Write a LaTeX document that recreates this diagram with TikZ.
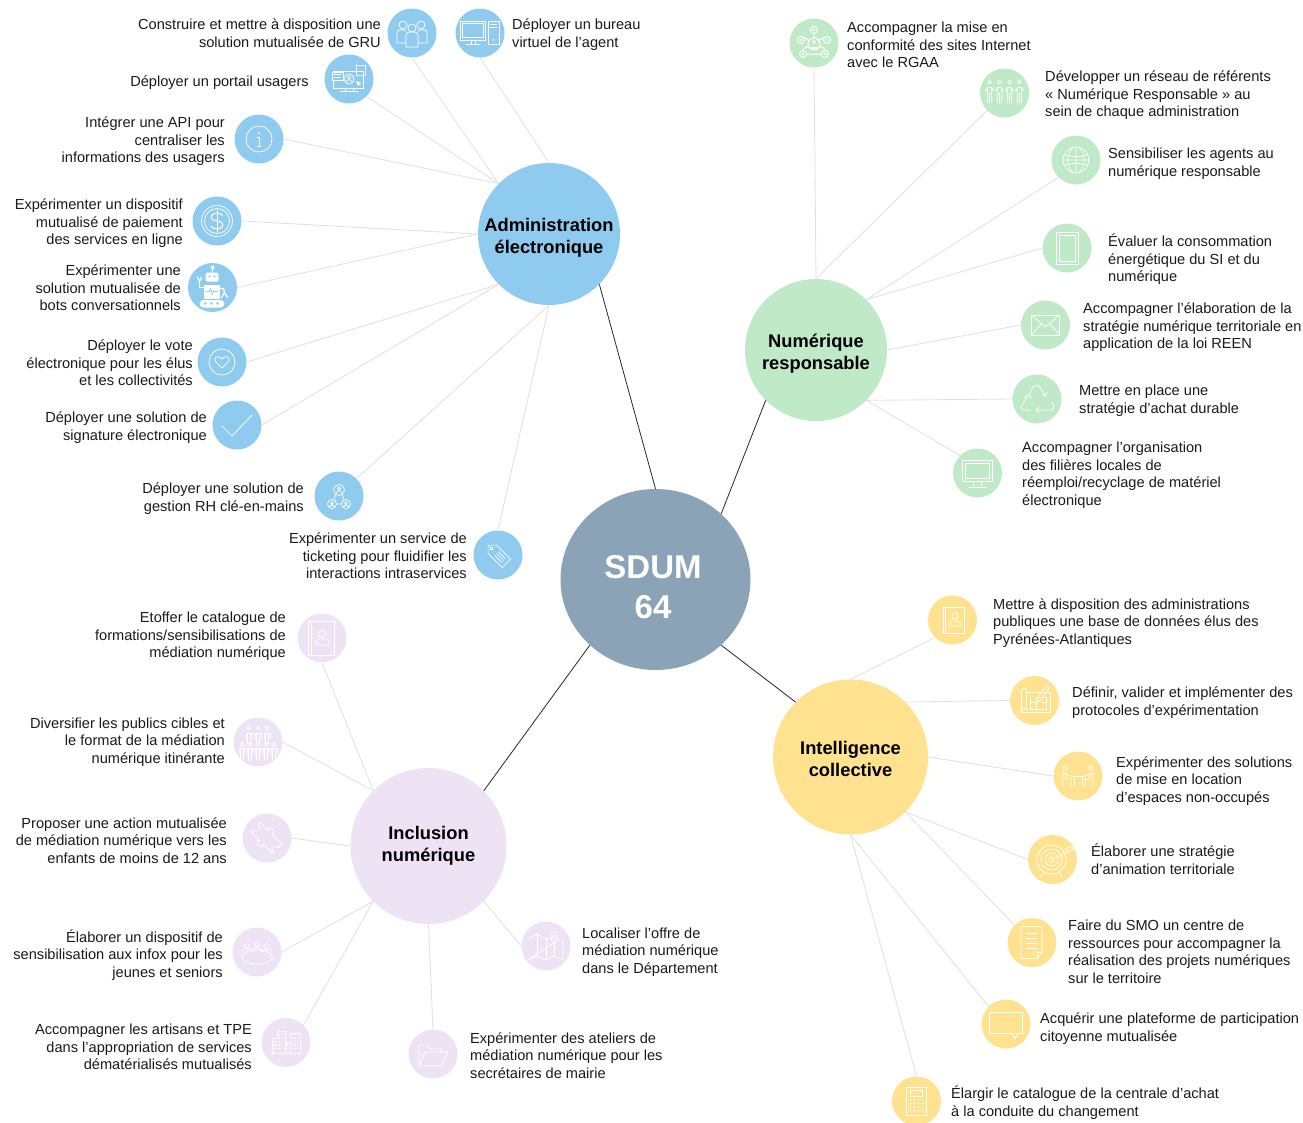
\documentclass[tikz,border=0pt]{standalone}
\usepackage{fontspec}
\setmainfont{Liberation Sans}
\usetikzlibrary{shapes.geometric}
\definecolor{cblue}{HTML}{8FCBEF}
\definecolor{cgreen}{HTML}{BFE9C7}
\definecolor{cyellow}{HTML}{FFE28F}
\definecolor{cpurple}{HTML}{EEE3F5}
\definecolor{ccentre}{HTML}{8AA3B7}
\definecolor{clink}{HTML}{E0E0E0}
\definecolor{ctext}{HTML}{1A1A1A}
\newcommand\dropby[1]{\rule{0pt}{#1pt}}
\tikzset{
  x=1pt,y=-1pt,
  leaf/.style={circle,draw=none,inner sep=0,minimum size=49pt},
  hub/.style={circle,draw=none,inner sep=0,align=center,font=\fontsize{18.3}{22}\selectfont\bfseries,text=black},
  lbl/.style={inner sep=0,text=ctext,yshift=-3pt,font=\fontsize{14.6}{17.6}\selectfont,execute at begin node=\strut,execute at end node=\strut},
  lr/.style={lbl,anchor=east,align=right},
  ll/.style={lbl,anchor=west,align=left},
  thin link/.style={draw=clink,line width=.85pt},
  main link/.style={draw=black!85,line width=.8pt},
  ic/.style={draw=white,line width=.7pt,line join=round,line cap=round},
  icf/.style={fill=white,draw=none},
}
\begin{document}
\begin{tikzpicture}
\useasboundingbox (0,0) rectangle (1303,1122);
% centre and hubs
\node[ellipse,draw=none,fill=ccentre,inner sep=0,minimum width=190pt,minimum height=181pt,align=center,text=white,font=\fontsize{33}{40}\selectfont\bfseries] (sdum) at (655.5,579.5) {\dropby{38}SDUM\kern5pt\\64\kern5pt};
\node[hub,fill=cblue,minimum size=142pt] (ha) at (549,234) {\dropby{21}Administration\\électronique};
\node[hub,fill=cgreen,minimum size=142pt] (hn) at (816,350) {\dropby{21}Numérique\\responsable};
\node[hub,fill=cyellow,minimum size=155pt] (hi) at (850.5,757) {\dropby{17}Intelligence\\collective};
\node[hub,fill=cpurple,minimum size=156pt] (hp) at (428.5,846) {Inclusion\\numérique};
\draw[main link] (sdum.north) -- (ha.315);
\draw[main link] (sdum.45) -- (hn.225);
\draw[main link] (sdum.315) -- (hi.135);
\draw[main link] (sdum.225) -- (hp.45);
% blue leaves
\foreach \n/\x/\y in {a1/412/33,a2/480/33,a3/349/79,a4/259/139,a5/217/221,a6/212.5/287.5,a7/222/362,a8/237/425,a9/339/496,a10/498/555}
  \node[leaf,fill=cblue] (\n) at (\x,\y) {};
\foreach \n/\x/\y in {n1/814/43,n2/1004.5/93,n3/1076/160,n4/1067/248,n5/1045.5/325,n6/1037/399,n7/977.5/473}
  \node[leaf,fill=cgreen] (\n) at (\x,\y) {};
\foreach \n/\x/\y in {i1/952.5/620,i2/1034.5/700.5,i3/1078/776,i4/1052.5/859.5,i5/1032/942.5,i6/1006/1024,i7/916.5/1101}
  \node[leaf,fill=cyellow] (\n) at (\x,\y) {};
\foreach \n/\x/\y in {p1/322/638,p2/258/742,p3/267/838,p4/257/952,p5/286/1042.5,p6/433/1054,p7/546/946}
  \node[leaf,fill=cpurple] (\n) at (\x,\y) {};
% thin links
\draw[thin link] (a1.south) -- (ha.135);
\draw[thin link] (a2.south) -- (ha.north);
\draw[thin link] (a3.315) -- (ha.135);
\draw[thin link] (a4.east) -- (ha.135);
\draw[thin link] (a5.east) -- (ha.west);
\draw[thin link] (a6.east) -- (ha.west);
\draw[thin link] (a7.east) -- (ha.225);
\draw[thin link] (a8.east) -- (ha.225);
\draw[thin link] (a9.45) -- (ha.south);
\draw[thin link] (a10.north) -- (ha.south);
\draw[thin link] (n1.south) -- (hn.north);
\draw[thin link] (n2.225) -- (hn.north);
\draw[thin link] (n3.225) -- (hn.45);
\draw[thin link] (n4.west) -- (hn.45);
\draw[thin link] (n5.west) -- (hn.east);
\draw[thin link] (n6.west) -- (hn.315);
\draw[thin link] (n7.135) -- (hn.315);
\draw[thin link] (i1.225) -- (hi.north);
\draw[thin link] (i2.west) -- (hi.45);
\draw[thin link] (i3.west) -- (hi.east);
\draw[thin link] (i4.west) -- (hi.315);
\draw[thin link] (i5.135) -- (hi.315);
\draw[thin link] (i6.135) -- (hi.south);
\draw[thin link] (i7.north) -- (hi.south);
\draw[thin link] (p1.south) -- (hp.135);
\draw[thin link] (p2.east) -- (hp.135);
\draw[thin link] (p3.east) -- (hp.west);
\draw[thin link] (p4.east) -- (hp.225);
\draw[thin link] (p5.45) -- (hp.225);
\draw[thin link] (p6.north) -- (hp.south);
\draw[thin link] (p7.west) -- (hp.315);
% labels
\node[lr] (ta1) at (381,33) {Construire et mettre à disposition une\\solution mutualisée de GRU};
\node[ll] (ta2) at (512,33) {Déployer un bureau\\virtuel de l’agent};
\node[lr] (ta3) at (309,80) {Déployer un portail usagers};
\node[lr] (ta4) at (225,139.5) {Intégrer une API pour\\centraliser les\\informations des usagers};
\node[lr] (ta5) at (183,221.5) {Expérimenter un dispositif\\mutualisé de paiement\\des services en ligne};
\node[lr] (ta6) at (181,287.5) {Expérimenter une\\solution mutualisée de\\bots conversationnels};
\node[lr] (ta7) at (193,362.5) {Déployer le vote\\électronique pour les élus\\et les collectivités};
\node[lr] (ta8) at (207,425.5) {Déployer une solution de\\signature électronique};
\node[lr] (ta9) at (304,496.5) {Déployer une solution de\\gestion RH clé-en-mains};
\node[lr] (ta10) at (467,555.5) {Expérimenter un service de\\ticketing pour fluidifier les\\interactions intraservices};
\node[ll] (tn1) at (847,44.5) {Accompagner la mise en\\conformité des sites Internet\\avec le RGAA};
\node[ll] (tn2) at (1045,93.5) {Développer un réseau de référents\\« Numérique Responsable » au\\sein de chaque administration};
\node[ll] (tn3) at (1108,162) {Sensibiliser les agents au\\numérique responsable};
\node[ll] (tn4) at (1108,257.5) {Évaluer la consommation\\énergétique du SI et du\\numérique};
\node[ll] (tn5) at (1083,325.5) {Accompagner l’élaboration de la\\stratégie numérique territoriale en\\application de la loi REEN};
\node[ll] (tn6) at (1079,399) {Mettre en place une\\stratégie d’achat durable};
\node[ll] (tn7) at (1022,473.5) {Accompagner l’organisation\\des filières locales de\\réemploi/recyclage de matériel\\électronique};
\node[ll] (ti1) at (993,621) {Mettre à disposition des administrations\\publiques une base de données élus des\\Pyrénées-Atlantiques};
\node[ll] (ti2) at (1072,701) {Définir, valider et implémenter des\\protocoles d’expérimentation};
\node[ll] (ti3) at (1116,779) {Expérimenter des solutions\\de mise en location\\d’espaces non-occupés};
\node[ll] (ti4) at (1091,859) {Élaborer une stratégie\\d’animation territoriale};
\node[ll] (ti5) at (1068,951.5) {Faire du SMO un centre de\\ressources pour accompagner la\\réalisation des projets numériques\\sur le territoire};
\node[ll] (ti6) at (1040,1027) {Acquérir une plateforme de participation\\citoyenne mutualisée};
\node[ll] (ti7) at (951,1101) {Élargir le catalogue de la centrale d’achat\\à la conduite du changement};
\node[lr] (tp1) at (286,634.5) {Etoffer le catalogue de\\formations/sensibilisations de\\médiation numérique};
\node[lr] (tp2) at (225,740) {Diversifier les publics cibles et\\le format de la médiation\\numérique itinérante};
\node[lr] (tp3) at (227,840) {Proposer une action mutualisée\\de médiation numérique vers les\\enfants de moins de 12 ans};
\node[lr] (tp4) at (223,953) {Élaborer un dispositif de\\sensibilisation aux infox pour les\\jeunes et seniors};
\node[lr] (tp5) at (252,1046.5) {Accompagner les artisans et TPE\\dans l’appropriation de services\\dématérialisés mutualisés};
\node[ll] (tp6) at (470,1055) {Expérimenter des ateliers de\\médiation numérique pour les\\secrétaires de mairie};
\node[ll] (tp7) at (582,950) {Localiser l’offre de\\médiation numérique\\dans le Département};
% ---- icons
% a1 people
\begin{scope}[shift={(a1.center)},ic]
\draw (-9,-8) circle (4) (0,-5) circle (4) (9,-8) circle (4);
\draw (-6,14) -- (-6,1) .. controls (-6,-2) and (6,-2) .. (6,1) -- (6,14) -- cycle;
\draw (-6,10) -- (-15,10) -- (-15,0) .. controls (-15,-4) and (-9,-4) .. (-6,-2);
\draw (6,10) -- (15,10) -- (15,0) .. controls (15,-4) and (9,-4) .. (6,-2);
\end{scope}
% a2 computer
\begin{scope}[shift={(a2.center)},ic]
\draw (-20,-12) rectangle (5,7) (-18,-10) rectangle (3,4);
\draw (-9,7) -- (-9,11) (-5,7) -- (-5,11) (-14,11) -- (0,11);
\draw (8,-12) rectangle (19,11) (10,-9) -- (17,-9) (10,-6) -- (17,-6);
\fill[white] (13.5,7) circle (.8);
\end{scope}
% a3 portal
\begin{scope}[shift={(a3.center)},ic]
\draw (-16,-8) rectangle (14,9);
\draw (-4,9) -- (-4,12) (4,9) -- (4,12) (-9,12) -- (9,12);
\draw[fill=cblue] (-17,-7) rectangle (-6,1);
\draw (-15,-4.5) -- (-8,-4.5) (-15,-2) -- (-9,-2);
\draw (0,0) circle (5) (0,-1.5) circle (1.6);
\draw (-3,3) .. controls (-2,0) and (2,0) .. (3,3);
\draw[densely dotted] (7,-14) rectangle (16,-4);
\fill[white] (7,2) -- (12,4) -- (9,7) -- cycle;
\end{scope}
% a4 info
\begin{scope}[shift={(a4.center)},ic]
\draw (0,0) circle (13);
\draw (0,-2) -- (0,7) (-2,-2) -- (0,-2) (-2,7) -- (2,7);
\fill[white] (0,-6) circle (1);
\end{scope}
% a5 dollar
\begin{scope}[shift={(a5.center)},ic]
\draw (0,0) circle (15.5) (0,0) circle (12.5);
\draw[line width=1pt] (6,-5) .. controls (5,-9) and (-6,-9) .. (-6,-4) .. controls (-6,2) and (6,-2) .. (6,4) .. controls (6,9) and (-5,9) .. (-6,5);
\draw[line width=1pt] (0,-11) -- (0,11);
\end{scope}
% a6 robot
\begin{scope}[shift={(a6.center)},ic]
\fill[white] (0,-20) circle (2);
\draw[line width=1.4pt] (0,-19) -- (0,-15);
\fill[white,rounded corners=1.5pt] (-7,-15) rectangle (6,-6);
\fill[cblue] (-3,-11) circle (1.2) (2,-11) circle (1.2);
\fill[white] (-9,-3) rectangle (7,11);
\draw[cblue,line width=.7pt] (-6,4) -- (-3,4) -- (-2,1) -- (0,7) -- (1,3) -- (2,4) -- (5,4);
\fill[white,rounded corners=4pt] (-13,12.5) rectangle (12,20);
\fill[cblue] (-7,16) circle (1.3) (-1,16) circle (1.3) (5,16) circle (1.3);
\draw[line width=1.4pt] (-9,0) -- (-13,0) -- (-13,-6);
\draw[line width=1.2pt] (-15,-10) -- (-13,-6) -- (-11,-10);
\draw[line width=1.4pt] (7,1) -- (11,1) -- (12,5);
\draw[line width=1.2pt] (9,10) -- (12,5) -- (15,10);
\end{scope}
% a7 heart
\begin{scope}[shift={(a7.center)},ic]
\draw (0,0) circle (13);
\draw (0,6) .. controls (-4,2) and (-7,0) .. (-7,-2.5) .. controls (-7,-6) and (-2,-6) .. (0,-3) .. controls (2,-6) and (7,-6) .. (7,-2.5) .. controls (7,0) and (4,2) .. cycle;
\end{scope}
% a8 tick
\begin{scope}[shift={(a8.center)},ic]
\draw (-15,1) -- (-5,11) -- (15,-10);
\end{scope}
% a9 hr network
\begin{scope}[shift={(a9.center)},ic]
\draw (0,-6) circle (5.5) (-7,8) circle (4.5) (7,8) circle (4.5);
\draw (-3,-2) -- (-5,3.5) (3,-2) -- (5,3.5) (-2,8) -- (2,8);
\draw (0,-7.5) circle (1.7) (-2.8,-3) .. controls (-2,-6) and (2,-6) .. (2.8,-3);
\draw (-7,7) circle (1.3) (-9.5,11) .. controls (-9,8.5) and (-5,8.5) .. (-4.5,11);
\draw (7,7) circle (1.3) (4.5,11) .. controls (5,8.5) and (9,8.5) .. (9.5,11);
\end{scope}
% a10 tag
\begin{scope}[shift={(a10.center)},ic,rotate=-45]
\draw (-13,-1) -- (-8,-6) -- (12,-6) -- (12,6) -- (-8,6) -- (-13,1) -- cycle;
\draw (-9,0) circle (1.3);
\draw (-2,-2.5) -- (8,-2.5) (-2,0) -- (8,0) (-2,2.5) -- (8,2.5);
\end{scope}
% n1 hub of people
\begin{scope}[shift={(n1.center)},ic,line width=1pt]
\draw (-11,-6) -- (11,6) (11,-6) -- (-11,6) (0,-13) -- (0,0) (-11,11) -- (11,11);
\draw[fill=cgreen] (0,1) circle (6);
\foreach \p in {(0,-13),(-13,-3),(13,-3),(-11,11),(11,11)} \draw[fill=cgreen,line width=.9pt] \p circle (3.5);
\fill[white] (0,-1) circle (1.8) (-4,4) rectangle (4,6);
\foreach \p in {(0,-13),(-13,-3),(13,-3),(-11,11),(11,11)} \fill[white] \p circle (1.4);
\end{scope}
% n2 four figures
\begin{scope}[shift={(n2.center)},ic]
\foreach \dx in {-15,-5,5,15}{
\begin{scope}[xshift=\dx]
\draw (0,-11) circle (1.8);
\draw (-4,-2) .. controls (-4,-7) and (4,-7) .. (4,-2) (-2.2,-5) -- (-2.2,10) (2.2,-5) -- (2.2,10) (0,0) -- (0,10);
\end{scope}}
\end{scope}
% n3 globe
\begin{scope}[shift={(n3.center)},ic]
\draw (0,0) circle (13);
\draw (-12,-5) .. controls (-5,-3) and (5,-3) .. (12,-5) (-13,0) -- (13,0) (-12,5) .. controls (-5,3) and (5,3) .. (12,5);
\draw (0,-13) -- (0,13) (-3,-13) .. controls (-10,-5) and (-10,5) .. (-3,13) (3,-13) .. controls (10,-5) and (10,5) .. (3,13);
\end{scope}
% n4 tablet
\begin{scope}[shift={(n4.center)},ic]
\draw (-11,-16) rectangle (11,16) (-8,-13) rectangle (8,13);
\end{scope}
% n5 envelope
\begin{scope}[shift={(n5.center)},ic]
\draw (-14,-10) rectangle (14,10);
\draw (-14,-10) -- (0,2) -- (14,-10) (-14,10) -- (-4,-1.5) (14,10) -- (4,-1.5);
\end{scope}
% n6 recycle
\begin{scope}[shift={(n6.center)},ic]
\draw (-9,-3) -- (-3,-13) -- (1,-14) -- (9,-3);
\draw (5.5,-4) -- (9,-3) -- (10,-7);
\draw (15,3) -- (17,7) -- (15,11) -- (-1,11);
\draw (2,8) -- (-1,11) -- (2,14);
\draw (-6,11) -- (-14,11) -- (-16,8) -- (-10,-2);
\draw (-13,-1) -- (-9,-5) -- (-6,-1);
\end{scope}
% n7 monitor
\begin{scope}[shift={(n7.center)},ic]
\draw (-15,-13) rectangle (15,8) (-12,-10) rectangle (12,5);
\draw (-4,8) -- (-4,14) (4,8) -- (4,14) (-9,14) -- (9,14);
\end{scope}
% i1 address book
\begin{scope}[shift={(i1.center)},ic]
\draw (-9,-13) rectangle (12,13) (-7,-13) -- (-7,13);
\draw (2.5,-4) circle (3.2);
\draw (-3,6) -- (-3,3) .. controls (-3,0) and (8,0) .. (8,3) -- (8,6) -- cycle;
\end{scope}
% i2 blueprint
\begin{scope}[shift={(i2.center)},ic]
\draw (-13,-10) -- (-13,12) -- (16,12) -- (16,-8) -- (-8,-8);
\draw (-13,-10) .. controls (-13,-13) and (-8,-13) .. (-8,-10) -- (-8,9) .. controls (-10,7) and (-12,8) .. (-13,12);
\draw (-4,-3) -- (-4,9) -- (12,9) -- (12,-3) -- (7,-3) (-4,2) -- (2,2) (2,-3) -- (2,9) (7,2) -- (12,2);
\draw (2,-1) -- (12,-15) -- (15,-13) -- (5,1) -- cycle;
\end{scope}
% i3 two people at a table
\begin{scope}[shift={(i3.center)},ic]
\draw (-13,-8) circle (2) (13,-8) circle (2);
\draw (-12,-4) -- (-12,3) -- (-7,3) -- (-7,11) (-15,-4) -- (-15,11) (-15,-3) -- (-4,1);
\draw (12,-4) -- (12,3) -- (7,3) -- (7,11) (15,-4) -- (15,11) (15,-3) -- (4,1);
\draw (-6,0) -- (6,0) (-4,0) -- (-4,11) (4,0) -- (4,11);
\end{scope}
% i4 target
\begin{scope}[shift={(i4.center)},ic]
\draw (-1,0) circle (14.5) (-1,0) circle (10.5) (-1,0) circle (6.5) (-1,0) circle (2.5);
\draw (-1,0) -- (18,-9) (13,-11) -- (15,-7.5) -- (21,-10) -- (19,-13) -- cycle;
\draw (-9,13) -- (-12,18) (7,13) -- (10,18);
\end{scope}
% i5 document
\begin{scope}[shift={(i5.center)},ic]
\draw (-11,-16) -- (10,-16) -- (10,10) -- (5,16) -- (-11,16) -- cycle;
\draw (5,16) -- (5,10) -- (10,10);
\draw (-6,-9) -- (5,-9) (-6,-4) -- (5,-4) (-6,1) -- (5,1) (-6,6) -- (5,6);
\end{scope}
% i6 speech bubble
\begin{scope}[shift={(i6.center)},ic]
\draw[line width=.9pt] (-17,-12) rectangle (16,9);
\fill[cyellow] (6,8) rectangle (12,10);
\draw[line width=.9pt] (6,9) -- (9,15) -- (12,9);
\fill[white] (-9,0) circle (1.2) (0,0) circle (1.2) (8,0) circle (1.2);
\end{scope}
% i7 calculator
\begin{scope}[shift={(i7.center)},ic]
\draw (-10,-14) rectangle (10,14) (-6,-11) rectangle (6,-5);
\foreach \yy in {-1,2.5,6,9.5}\foreach \xx in {-6,-2,2,6} \fill[white] (\xx,\yy) circle (.9);
\end{scope}
% p1 address book
\begin{scope}[shift={(p1.center)},ic]
\draw (-14,-17) rectangle (12,17) (-11,-17) -- (-11,17);
\draw (0,-4) circle (3.5);
\draw (-6,7) -- (-6,3) .. controls (-6,0) and (7,0) .. (7,3) -- (7,7) -- cycle;
\end{scope}
% p2 crowd
\begin{scope}[shift={(p2.center)},ic]
\foreach \dx in {-9,0,9}{
\begin{scope}[xshift=\dx]
\draw (0,-14) circle (1.8);
\draw (-3,-3) -- (-3,-9) -- (3,-9) -- (3,-3) (-1.5,-9) -- (-1.5,2) (1.5,-9) -- (1.5,2);
\end{scope}}
\foreach \dx in {-16,-8,0,8,16}{
\begin{scope}[xshift=\dx]
\draw (0,2) circle (1.8);
\draw (-3,11) -- (-3,6) -- (3,6) -- (3,11) (-1.5,6) -- (-1.5,18) (1.5,6) -- (1.5,18);
\end{scope}}
\end{scope}
% p3 puzzle
\begin{scope}[shift={(p3.center)},ic,rotate=-45]
\draw (-16,-6) -- (-5,-6) .. controls (-8,-12) and (3,-12) .. (1,-6) -- (15,-6) -- (15,-1) .. controls (9,-3) and (9,7) .. (15,5) -- (15,7) -- (2,7) .. controls (5,13) and (-7,13) .. (-4,7) -- (-16,7) -- (-16,4) .. controls (-10,5) and (-10,-4) .. (-16,-3) -- cycle;
\end{scope}
% p4 meeting
\begin{scope}[shift={(p4.center)},ic]
\draw (0,5) ellipse (15.5 and 7);
\draw (-10,-6) circle (2.5) (0,-8) circle (2.5) (10,-6) circle (2.5);
\draw (-15,-1) .. controls (-14,-4) and (-7,-4) .. (-5,0) (-5,-2) .. controls (-4,-5) and (4,-5) .. (5,-2) (5,0) .. controls (7,-4) and (14,-4) .. (15,-1);
\end{scope}
% p5 buildings
\begin{scope}[shift={(p5.center)},ic,draw opacity=.8]
\draw (-14,11) -- (-14,-4) -- (-9,-4) -- (-9,-11) -- (-1,-11) -- (-1,11) (-1,1) -- (4,1) -- (4,11) (4,11) -- (4,-9) -- (14,-9) -- (14,11) -- (-14,11);
\foreach \xx in {-12,-10,-7,-4.5,1,6.5,9,11.5}\foreach \yy in {-1,2.5,6}
  \fill[white,opacity=.7] (\xx-.7,\yy-.7) rectangle (\xx+.7,\yy+.7);
\foreach \xx in {-7,-4.5,6.5,9,11.5}\foreach \yy in {-8,-4.5}
  \fill[white,opacity=.7] (\xx-.7,\yy-.7) rectangle (\xx+.7,\yy+.7);
\end{scope}
% p6 folder
\begin{scope}[shift={(p6.center)},ic]
\draw (-14,12) -- (-14,-9) -- (-6,-9) -- (-3,-5) -- (9,-5) -- (9,-2);
\draw (-14,12) -- (-8,-2) -- (15,-2) -- (9,12) -- cycle;
\end{scope}
% p7 map
\begin{scope}[shift={(p7.center)},ic]
\draw (-18,-7) -- (-9,-12) -- (0,-7) -- (3,-8) (14,-7) -- (17,-7) -- (17,14) -- (8,10) -- (0,14) -- (-9,10) -- (-18,14) -- cycle;
\draw (-9,-12) -- (-9,10) (0,-7) -- (0,14) (8,-1) -- (8,10);
\draw (8,-1) .. controls (4,-8) and (3,-14) .. (8,-14.5) .. controls (13,-14) and (12,-8) .. (8,-1);
\draw (8,-9.5) circle (1.6);
\end{scope}
\end{tikzpicture}
\end{document}
